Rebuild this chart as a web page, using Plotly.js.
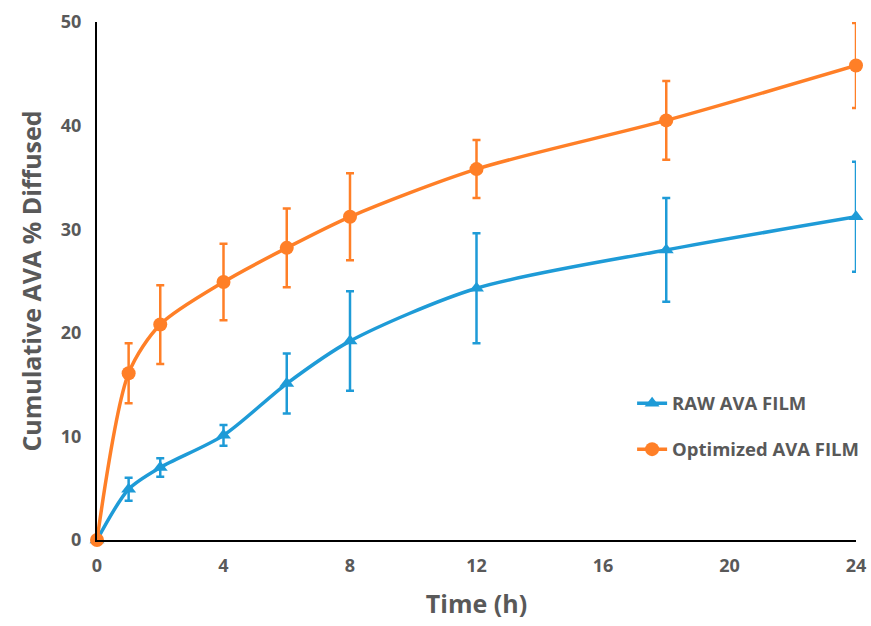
<!DOCTYPE html>
<html>
<head>
<meta charset="utf-8">
<script src="https://cdn.plot.ly/plotly-3.0.1.min.js"></script>
<style>html,body{margin:0;padding:0;background:#fff;}#chart{width:871px;height:626px;}</style>
</head>
<body>
<div id="chart"></div>
<script>
const time = [0, 1, 2, 4, 6, 8, 12, 18, 24];
const rawValues = [0, 4.9, 7.0, 10.1, 15.1, 19.2, 24.3, 28.0, 31.2];
const rawErrors = [0, 1.1, 0.9, 1.0, 2.9, 4.8, 5.3, 5.0, 5.3];
const optValues = [0, 16.1, 20.8, 24.9, 28.2, 31.2, 35.8, 40.5, 45.8];
const optErrors = [0, 2.9, 3.8, 3.7, 3.8, 4.2, 2.8, 3.8, 4.1];
const xTicks = [0, 4, 8, 12, 16, 20, 24];
const yTicks = [0, 10, 20, 30, 40, 50];

const blue = '#1e9bd7';
const orange = '#ff7f27';
const gray = '#595959';
const fontFam = 'Open Sans, Noto Sans, sans-serif';

const traces = [
  {
    x: time, y: rawValues, name: 'RAW AVA FILM', type: 'scatter', mode: 'lines+markers',
    line: {color: blue, width: 3.5, shape: 'spline', smoothing: 0.8},
    marker: {symbol: 'triangle-up', size: 13, color: blue},
    error_y: {type: 'data', array: rawErrors, visible: true, color: blue, thickness: 2.5, width: 4},
    cliponaxis: false,
    legendgroup: 'a'
  },
  {
    x: time, y: optValues, name: 'Optimized AVA FILM', type: 'scatter', mode: 'lines+markers',
    line: {color: orange, width: 3.5, shape: 'spline', smoothing: 0.8},
    marker: {symbol: 'circle', size: 14, color: orange},
    error_y: {type: 'data', array: optErrors, visible: true, color: orange, thickness: 2.5, width: 4},
    cliponaxis: false,
    legendgroup: 'b'
  }
];

const layout = {
  width: 871, height: 626,
  margin: {l: 97, r: 15, t: 22, b: 86, autoexpand: false},
  paper_bgcolor: '#fff', plot_bgcolor: '#fff',
  showlegend: true,
  legend: {
    x: 0.705, y: 0.30, xanchor: 'left', yanchor: 'top',
    font: {family: fontFam, size: 18.5, color: gray, weight: 'bold'},
    traceorder: 'grouped', tracegroupgap: 19, bgcolor: 'rgba(0,0,0,0)'
  },
  xaxis: {
    range: [0, 24], tickvals: xTicks, ticktext: xTicks.map(String),
    showgrid: false, zeroline: false, showline: true, linecolor: '#000', linewidth: 2,
    ticks: '', ticklabelstandoff: 8,
    tickfont: {family: fontFam, size: 18, color: gray, weight: 'bold'},
    title: {text: 'Time (h)', font: {family: fontFam, size: 25, color: gray, weight: 'bold'}, standoff: 20},
    fixedrange: true
  },
  yaxis: {
    range: [0, 50], tickvals: yTicks, ticktext: yTicks.map(String),
    showgrid: false, zeroline: false, showline: true, linecolor: '#000', linewidth: 2,
    ticks: '', ticklabelstandoff: 10,
    tickfont: {family: fontFam, size: 18, color: gray, weight: 'bold'},
    title: {text: 'Cumulative AVA % Diffused', font: {family: fontFam, size: 25, color: gray, weight: 'bold'}, standoff: 12},
    fixedrange: true
  }
};

Plotly.newPlot('chart', traces, layout, {displayModeBar: false, staticPlot: true});
</script>
</body>
</html>
